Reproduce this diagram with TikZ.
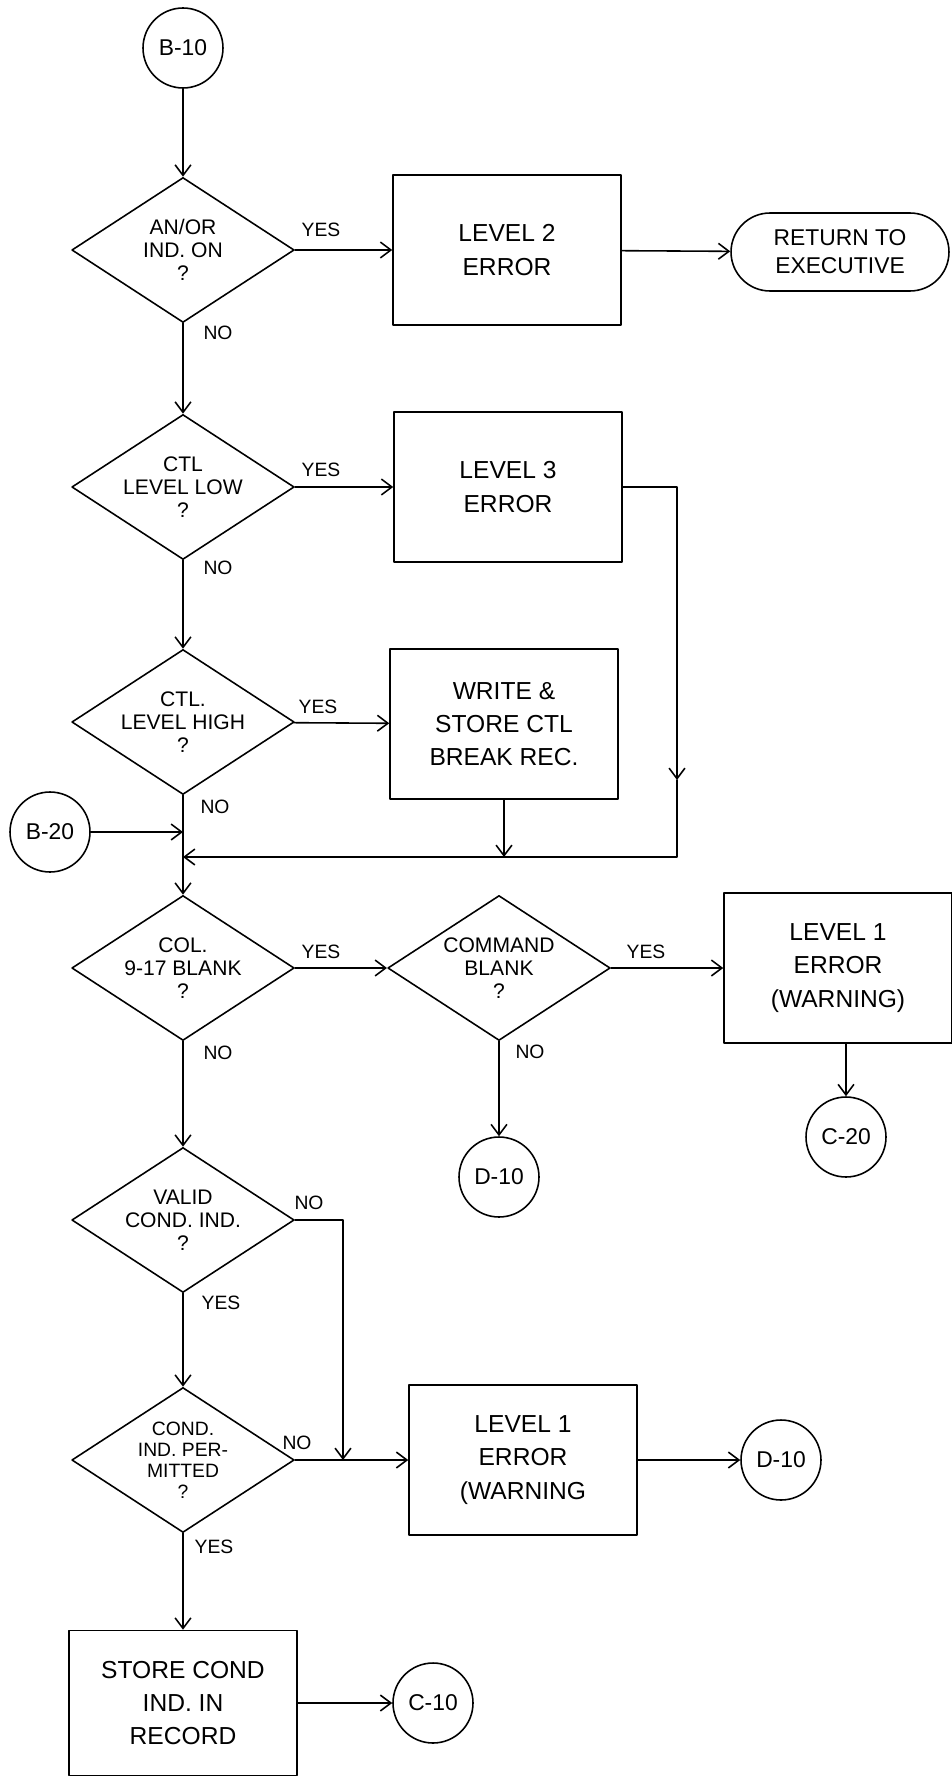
\documentclass[tikz,border=0pt]{standalone}
\usepackage{fontspec}
\setmainfont{Liberation Sans}
\usetikzlibrary{shapes.geometric,arrows.meta}

\begin{document}
\begin{tikzpicture}[x=0.02cm,y=-0.02cm,line cap=round,line join=round,line width=0.9pt,
  >={Straight Barb[length=6pt,width=9pt]},
  test/.style={draw,shape=diamond,aspect=1.53,inner sep=0pt,minimum width=4.45cm,
    minimum height=2.9cm,align=center,font=\fontsize{12}{13}\selectfont},
  proc/.style={draw,rectangle,minimum width=4.56cm,minimum height=3cm,align=center,
    font=\fontsize{14}{19}\selectfont},
  conn/.style={draw,circle,minimum size=1.6cm,inner sep=0pt,font=\fontsize{13}{15}\selectfont},
  term/.style={draw,rectangle,rounded corners=0.78cm,minimum width=4.36cm,minimum height=1.56cm,
    align=center,font=\fontsize{13}{16}\selectfont},
  yn/.style={font=\fontsize{11}{13}\selectfont}]
  \useasboundingbox (0,0) rectangle (951,1777);
  % left column
  \node[conn] (b10) at (183,48) {B-10};
  \node[test] (q1) at (183,250) {AN/OR\\IND. ON\\?};
  \node[test] (q2) at (183,487) {CTL\\LEVEL LOW\\?};
  \node[test] (q3) at (183,722) {CTL.\\LEVEL HIGH\\?};
  \node[conn] (b20) at (50,832) {B-20};
  \node[test] (q5) at (183,968) {COL.\\9-17 BLANK\\?};
  \node[test] (q8) at (183,1220) {VALID\\COND. IND.\\?};
  \node[test,font=\fontsize{11}{12}\selectfont] (q9) at (183,1460) {COND.\\IND. PER-\\MITTED\\?};
  \node[proc,minimum height=2.9cm] (st) at (183,1703) {STORE COND\\IND. IN\\RECORD};
  % right side
  \node[proc] (err2) at (507,250) {LEVEL 2\\ERROR};
  \node[term] (ret) at (840,252) {RETURN TO\\EXECUTIVE};
  \node[proc] (err3) at (508,487) {LEVEL 3\\ERROR};
  \node[proc] (wr) at (504,724) {WRITE \&\\STORE CTL\\BREAK REC.};
  \node[test] (q6) at (499,968) {COMMAND\\BLANK\\?};
  \node[proc] (err1a) at (838,968) {LEVEL 1\\ERROR\\(WARNING)};
  \node[conn] (c20) at (846,1137) {C-20};
  \node[conn] (d10a) at (499,1177) {D-10};
  \node[proc] (err1b) at (523,1460) {LEVEL 1\\ERROR\\(WARNING};
  \node[conn] (d10b) at (781,1460) {D-10};
  \node[conn] (c10) at (433,1703) {C-10};
  \coordinate (m1) at (183,857);
  \coordinate (r1) at (677,780);
  \coordinate (j1) at (343,1460);
  % flow
  \draw[->] (b10) -- (q1);
  \draw[->] (q1) -- (err2);
  \draw[->] (err2) -- (ret);
  \draw[->] (q1) -- (q2);
  \draw[->] (q2) -- (err3);
  \draw[->] (q2) -- (q3);
  \draw[->] (q3) -- (wr);
  \draw[->] (q3) -- (q5);
  \draw[->] (b20) -- (b20 -| m1);
  \draw[->] (err3.east) -| (r1);
  \draw[->] (r1) |- (m1);
  \draw[->] (wr) -- (wr.south |- m1);
  \draw[->] (q5) -- (q6);
  \draw[->] (q6) -- (err1a);
  \draw[->] (c20 |- err1a.south) -- (c20);
  \draw[->] (q6) -- (d10a);
  \draw[->] (q5) -- (q8);
  \draw[->] (q8) -- (q9);
  \draw[->] (q8.east) -| (j1);
  \draw[->] (q9) -- (err1b);
  \draw[->] (err1b) -- (d10b);
  \draw[->] (q9) -- (st);
  \draw[->] (st) -- (c10);
  % yes / no
  \node[yn] (y1) at (321,230) {YES};
  \node[yn] (n1) at (218,333) {NO};
  \node[yn] (y2) at (321,470) {YES};
  \node[yn] (n2) at (218,568) {NO};
  \node[yn] (y3) at (318,707) {YES};
  \node[yn] (n3) at (215,807) {NO};
  \node[yn] (y5) at (321,952) {YES};
  \node[yn] (n5) at (218,1053) {NO};
  \node[yn] (y6) at (646,952) {YES};
  \node[yn] (n6) at (530,1052) {NO};
  \node[yn] (n8) at (309,1203) {NO};
  \node[yn] (y8) at (221,1303) {YES};
  \node[yn] (n9) at (297,1443) {NO};
  \node[yn] (y9) at (214,1547) {YES};
\end{tikzpicture}
\end{document}
